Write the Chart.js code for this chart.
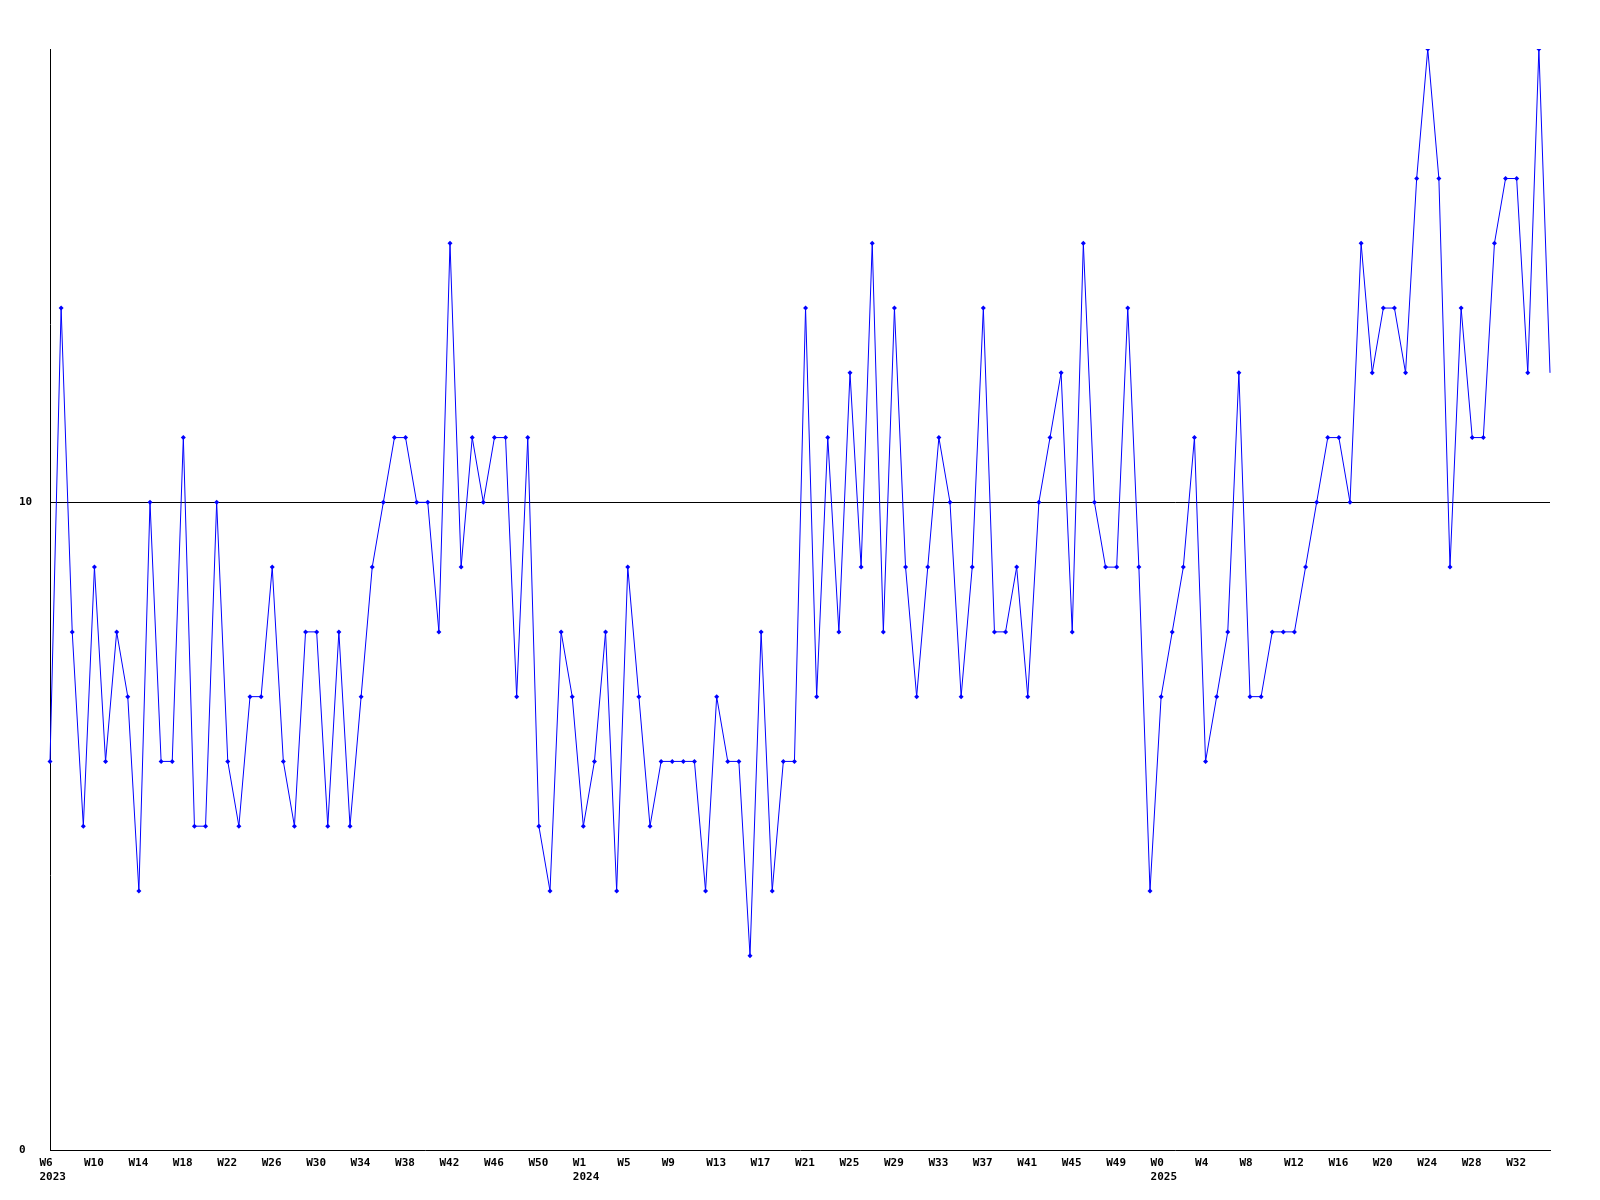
<!DOCTYPE html>
<html>
<head>
<meta charset="utf-8">
<script src="https://cdn.jsdelivr.net/npm/chart.js@4/dist/chart.umd.min.js"></script>
<style>
html,body{margin:0;padding:0;background:#fff;}
canvas{display:block;}
</style>
</head>
<body>
<canvas id="c" width="1600" height="1200"></canvas>
<script>
// Week categories: [year, first week, last week]
const yearSegments = [[2023, 6, 52], [2024, 0, 52], [2025, 0, 35]];
// Weekly values
const values = [
  6,13,8,5,9,6,8,7,4,10,
  6,6,11,5,5,10,6,5,7,7,
  9,6,5,8,8,5,8,5,7,9,
  10,11,11,10,10,8,14,9,11,10,
  11,11,7,11,5,4,8,7,5,6,
  8,4,9,7,5,6,6,6,6,4,
  7,6,6,3,8,4,6,6,13,7,
  11,8,12,9,14,8,13,9,7,9,
  11,10,7,9,13,8,8,9,7,10,
  11,12,8,14,10,9,9,13,9,4,
  7,8,9,11,6,7,8,12,7,7,
  8,8,8,9,10,11,11,10,14,12,
  13,13,12,15,17,15,9,13,11,11,
  14,15,15,12,17,12
];
const yTickValues = [0, 10];
const yMax = 17;
const labelEvery = 4;

const weekLabels = [];
const weekYears = [];
for (const [yr, a, b] of yearSegments) {
  for (let w = a; w <= b; w++) { weekLabels.push('W' + w); weekYears.push(yr); }
}

const FONT = {family: "'DejaVu Sans Mono', monospace", size: 11, weight: 'bold', lineHeight: '14px'};

new Chart(document.getElementById('c'), {
  type: 'line',
  data: {
    labels: weekLabels,
    datasets: [{
      data: values,
      borderColor: '#0000ff',
      backgroundColor: '#0000ff',
      borderWidth: 1,
      pointStyle: 'rectRot',
      pointRadius: (ctx) => ctx.dataIndex === values.length - 1 ? 0 : 2.5,
      pointBorderWidth: 0,
      pointBackgroundColor: '#0000ff',
      tension: 0,
      fill: false
    }]
  },
  options: {
    responsive: false,
    animation: false,
    devicePixelRatio: 1,
    layout: {padding: {left: 19, top: 49, right: 50, bottom: 0}},
    plugins: {legend: {display: false}, tooltip: {enabled: false}, title: {display: false}},
    scales: {
      x: {
        type: 'category',
        offset: false,
        grid: {display: false, drawTicks: false},
        border: {display: true, color: '#000', width: 1},
        afterFit: (s) => { s.height = 50; },
        ticks: {
          autoSkip: false,
          maxRotation: 0,
          minRotation: 0,
          align: 'start',
          labelOffset: -10.5,
          padding: 6,
          color: '#000',
          font: FONT,
          callback: function(v, i) {
            if (i % labelEvery !== 0) return '';
            let firstOfYear = true;
            for (let j = i - labelEvery; j >= 0; j -= labelEvery) {
              if (weekYears[j] === weekYears[i]) { firstOfYear = false; break; }
            }
            return firstOfYear ? [weekLabels[i], String(weekYears[i])] : weekLabels[i];
          }
        }
      },
      y: {
        min: 0,
        max: yMax,
        afterBuildTicks: (s) => { s.ticks = yTickValues.map(v => ({value: v})); },
        afterFit: (s) => { s.width = 31; },
        grid: {
          drawTicks: false,
          color: (ctx) => (ctx.tick && ctx.tick.value === 10) ? '#000' : 'rgba(0,0,0,0)',
          lineWidth: 1
        },
        border: {display: true, color: '#000', width: 1},
        ticks: {
          crossAlign: 'far',
          padding: 0,
          color: '#000',
          font: FONT
        }
      }
    }
  }
});
</script>
</body>
</html>
